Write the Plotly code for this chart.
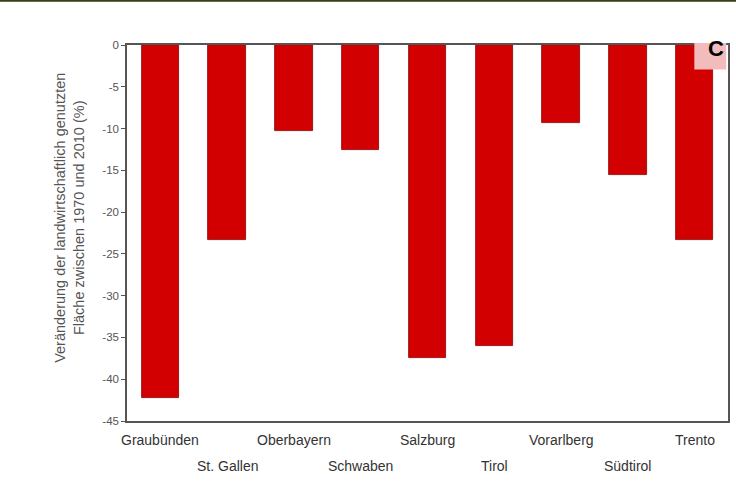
import plotly.graph_objects as go

# Regions and change in agricultural area 1970-2010 (%)
regions = ["Graubünden", "St. Gallen", "Oberbayern", "Schwaben", "Salzburg",
           "Tirol", "Vorarlberg", "Südtirol", "Trento"]
change_pct = [-42.2, -23.3, -10.3, -12.6, -37.5, -36.0, -9.3, -15.6, -23.3]
y_ticks = [0, -5, -10, -15, -20, -25, -30, -35, -40, -45]

FONT = "Liberation Sans, Arial, sans-serif"

fig = go.Figure(go.Bar(
    x=list(range(len(regions))),
    y=change_pct,
    width=0.56,
    marker=dict(color="#d20000", line=dict(color="#8a0000", width=0.8)),
    hoverinfo="skip",
))

# staggered category labels
annotations = []
for i, name in enumerate(regions):
    annotations.append(dict(
        x=i, xref="x", y=-0.05 if i % 2 == 0 else -0.12, yref="paper",
        text=name, showarrow=False, xanchor="center", yanchor="middle",
        font=dict(family=FONT, size=14, color="#333333"),
    ))

# y-axis title (two lines, rotated)
annotations.append(dict(
    x=-0.095, xref="paper", y=0.54, yref="paper", textangle=-90,
    text="Veränderung der landwirtschaftlich genutzten<br>Fläche zwischen 1970 und 2010 (%)",
    showarrow=False, xanchor="center", yanchor="middle",
    font=dict(family=FONT, size=14.5, color="#555555"),
))

# panel letter
annotations.append(dict(
    x=0.997, xref="paper", y=0.99, yref="paper",
    text="<b>C</b>", showarrow=False, xanchor="right", yanchor="middle",
    font=dict(family=FONT, size=22, color="#000000"),
))

shapes = [
    # panel letter background
    dict(type="rect", xref="paper", yref="paper", x0=0.944, x1=0.997,
         y0=0.935, y1=1.005, fillcolor="#f2bcbc", line=dict(width=0), layer="above"),
    # dark rule along the top of the page
    dict(type="rect", xref="paper", yref="paper", x0=-0.25, x1=1.02,
         y0=1.115, y1=1.125, fillcolor="#3b3d16", line=dict(width=0)),
]

fig.update_layout(
    width=736, height=481,
    margin=dict(l=127, r=6, t=45, b=60),
    paper_bgcolor="white", plot_bgcolor="white",
    showlegend=False,
    bargap=0,
    annotations=annotations,
    shapes=shapes,
    xaxis=dict(
        range=[-0.5, len(regions) - 0.5],
        showticklabels=False, ticks="", showgrid=False, zeroline=False,
        showline=True, linecolor="#555555", linewidth=1.5, mirror=True,
    ),
    yaxis=dict(
        range=[-45, 0], tickvals=y_ticks, ticktext=[str(v) for v in y_ticks],
        ticks="outside", ticklen=4, tickcolor="#555555",
        tickfont=dict(family=FONT, size=11.5, color="#555555"),
        showgrid=False, zeroline=False,
        showline=True, linecolor="#555555", linewidth=1.5, mirror=True,
    ),
)

fig.write_html("out.html")
